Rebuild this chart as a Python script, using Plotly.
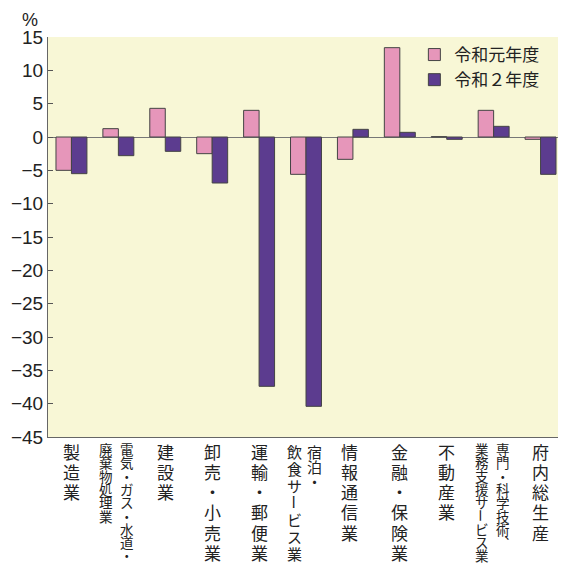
import plotly.graph_objects as go

# ---- data ----
categories = [
    "製造業", "電気・ガス・水道・廃棄物処理業", "建設業", "卸売・小売業",
    "運輸・郵便業", "宿泊・飲食サービス業", "情報通信業", "金融・保険業",
    "不動産業", "専門・科学技術、業務支援サービス業", "府内総生産",
]
# vertical label columns, right column first (Japanese vertical writing)
label_columns = [
    ["製造業"],
    ["電気・ガス・水道・", "廃棄物処理業"],
    ["建設業"],
    ["卸売・小売業"],
    ["運輸・郵便業"],
    ["宿泊・", "飲食サービス業"],
    ["情報通信業"],
    ["金融・保険業"],
    ["不動産業"],
    ["専門・科学技術、", "業務支援サービス業"],
    ["府内総生産"],
]
series_names = ["令和元年度", "令和２年度"]
values_r1 = [-5.0, 1.25, 4.3, -2.5, 4.0, -5.6, -3.35, 13.4, 0.05, 4.0, -0.35]
values_r2 = [-5.5, -2.8, -2.15, -6.9, -37.4, -40.4, 1.15, 0.7, -0.35, 1.6, -5.6]
y_ticks = [15, 10, 5, 0, -5, -10, -15, -20, -25, -30, -35, -40, -45]

# ---- styles ----
PINK = "#e696ba"
PURPLE = "#5c3c8f"
BG = "#f8f7d6"
EDGE = "#444444"
JP = "Noto Sans CJK JP"
NUM = "Liberation Sans Narrow, Arial Narrow, Liberation Sans"

fig = go.Figure()
fig.add_trace(go.Bar(x=categories, y=values_r1, name=series_names[0],
                     marker=dict(color=PINK, line=dict(color=EDGE, width=1))))
fig.add_trace(go.Bar(x=categories, y=values_r2, name=series_names[1],
                     marker=dict(color=PURPLE, line=dict(color=EDGE, width=1))))

# vertical category labels, one annotation per character (tight vertical pitch)
annotations = []
for cat, cols in zip(categories, label_columns):
    n = len(cols)
    for ci, col in enumerate(cols):
        if n == 1:
            size, pitch, start = 17, 20.3, 14
            xoff = -3 if cat == "情報通信業" else 0
        elif cat.startswith("宿泊"):
            size, pitch, start = 15, (15 if ci == 0 else 17), 14
            xoff = 8 if ci == 0 else -11.5
        else:
            size, pitch, start = 13.5, 13.3, 12
            xoff = 9 if ci == 0 else -12
        for i, ch in enumerate(col):
            txt, angle = ch, 0
            if ch == "ー":
                angle = 90
            elif ch == "、":
                txt = "︑"
            annotations.append(dict(
                x=cat, xref="x", y=0, yref="paper",
                xanchor="center", yanchor="middle",
                xshift=xoff, yshift=-(start + i * pitch),
                text=txt, textangle=angle, showarrow=False,
                font=dict(family=JP, size=size, color="#222222"),
            ))

annotations.append(dict(
    x=-0.034, y=1.0435, xref="paper", yref="paper",
    xanchor="center", yanchor="middle", text="%", showarrow=False,
    font=dict(family=NUM, size=18, color="#222222"),
))

# page body has an 8px margin, so the figure is 8px smaller and offset-compensated
fig.update_layout(
    width=558, height=558,
    margin=dict(l=40, r=2, t=29, b=129),
    paper_bgcolor="white", plot_bgcolor=BG,
    barmode="group", bargap=0.34, bargroupgap=0,
    showlegend=True,
    legend=dict(x=0.71, y=1.0, xanchor="left", yanchor="top",
                bgcolor="rgba(0,0,0,0)",
                font=dict(family=JP, size=17, color="#222222")),
    xaxis=dict(showticklabels=False, showline=True, linecolor="#666666",
               linewidth=1, ticks="", showgrid=False, zeroline=False,
               fixedrange=True),
    yaxis=dict(range=[-45, 15], tickvals=y_ticks, ticks="inside", ticklen=5,
               tickcolor="#555555", showline=True, linecolor="#666666",
               linewidth=1, showgrid=False, zeroline=True,
               zerolinecolor="#777777", zerolinewidth=1,
               tickfont=dict(family=NUM, size=19, color="#222222")),
    annotations=annotations,
)

fig.write_html("out.html")
